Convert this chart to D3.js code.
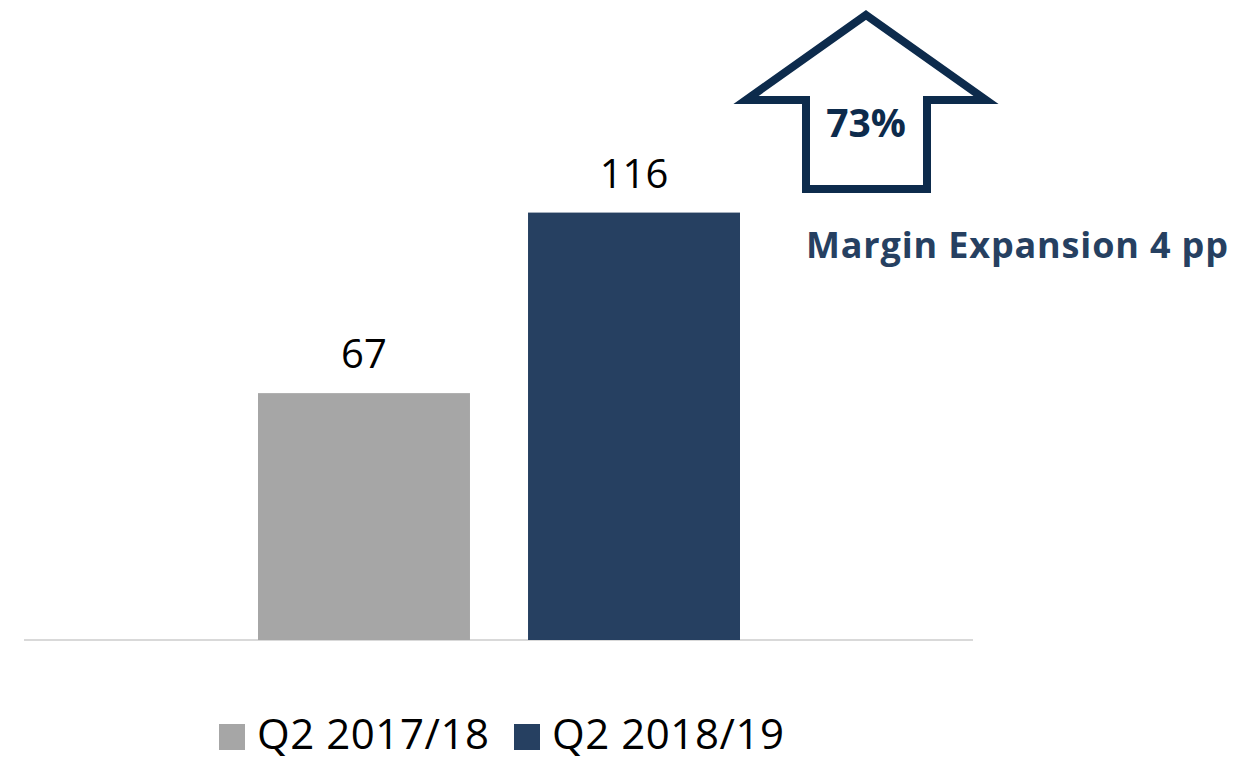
<!DOCTYPE html>
<html><head><meta charset="utf-8">
<script src="https://cdn.jsdelivr.net/npm/d3@7"></script>
<style>body{margin:0;background:#fff}svg{display:block}</style>
</head><body>
<script>
const series = ["Q2 2017/18", "Q2 2018/19"];
const values = [67, 116];
const colors = ["#a6a6a6", "#264061"];
const growthLabel = "73%";
const marginLabel = "Margin Expansion 4 pp";

const W = 1256, H = 761;
const svg = d3.select("body").append("svg").attr("width", W).attr("height", H);
const font = "'Open Sans', sans-serif";

const x = d3.scaleBand().domain(series).range([258, 740]).paddingInner(0.215).paddingOuter(0);
const y = d3.scaleLinear().domain([0, 130]).range([640, 161]);

// axis line
svg.append("line").attr("x1", 24).attr("x2", 973).attr("y1", y(0)).attr("y2", y(0))
  .attr("stroke", "#d9d9d9").attr("stroke-width", 2);

svg.selectAll("rect.bar").data(series).enter().append("rect").attr("class", "bar")
  .attr("x", d => x(d)).attr("width", x.bandwidth())
  .attr("y", (d, i) => y(values[i])).attr("height", (d, i) => y(0) - y(values[i]))
  .attr("fill", (d, i) => colors[i]);

svg.selectAll("text.val").data(series).enter().append("text").attr("class", "val")
  .attr("x", d => x(d) + x.bandwidth() / 2)
  .attr("y", (d, i) => y(values[i]) - 25)
  .attr("text-anchor", "middle").attr("font-family", font).attr("font-size", 40)
  .attr("fill", "#000").text((d, i) => values[i]);

// arrow
const ax = 866;
const arrowPts = [[ax, 15], [986, 100], [927, 100], [927, 189], [806, 189], [806, 100], [746, 100]];
svg.append("path").attr("d", d3.line()(arrowPts) + "Z")
  .attr("fill", "#fff").attr("stroke", "#0d2b4c").attr("stroke-width", 8).attr("stroke-linejoin", "miter");
svg.append("text").attr("x", ax).attr("y", 137).attr("text-anchor", "middle")
  .attr("font-family", font).attr("font-weight", 700).attr("font-size", 39)
  .attr("fill", "#0d2b4c").text(growthLabel);

svg.append("text").attr("x", 806).attr("y", 258)
  .attr("font-family", font).attr("font-weight", 700).attr("font-size", 36)
  .attr("textLength", 422).attr("lengthAdjust", "spacing")
  .attr("fill", "#264061").text(marginLabel);

// legend
const legItems = [{sx: 219, tx: 257}, {sx: 514, tx: 552}];
series.forEach((s, i) => {
  svg.append("rect").attr("x", legItems[i].sx).attr("y", 724).attr("width", 26).attr("height", 26).attr("fill", colors[i]);
  svg.append("text").attr("x", legItems[i].tx).attr("y", 749)
    .attr("font-family", font).attr("font-size", 42)
    .attr("textLength", 232).attr("lengthAdjust", "spacing")
    .attr("fill", "#000").text(s);
});
</script>
</body></html>
